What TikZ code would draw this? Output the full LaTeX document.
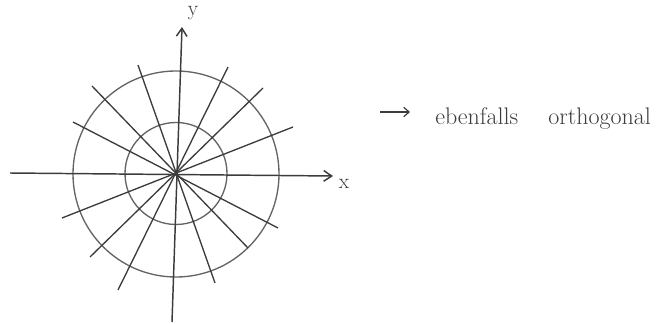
\documentclass[tikz,border=0pt]{standalone}
\usetikzlibrary{arrows.meta}
\definecolor{pencil}{RGB}{60,60,60}
\definecolor{lightpencil}{RGB}{100,100,100}
\begin{document}
\begin{tikzpicture}[x=0.75pt,y=-0.75pt,
  ray/.style={draw=pencil,line width=1pt},
  ring/.style={draw=lightpencil,line width=1pt},
  axis/.style={draw=pencil,line width=1.1pt,-{Straight Barb[length=6pt,width=8pt]}},
  lbl/.style={text=pencil,font=\fontsize{16}{18}\selectfont,inner sep=0pt},
  note/.style={text=pencil,font=\fontsize{18}{21}\selectfont,inner sep=0pt,anchor=base west}]
\useasboundingbox (0,0) rectangle (660,324);
\coordinate (O) at (176,174);
% circles
\draw[ring] (O) circle[radius=103];
\draw[ring] (176,173.5) circle[radius=51];
% axes
\coordinate (xs) at (10,173);
\coordinate (xe) at (333,176);
\coordinate (ys) at (172,322);
\coordinate (ye) at (182,27);
\draw[axis] (xs) -- (xe);
\draw[axis] (ys) -- (ye);
\node[lbl] (xl) at (344,184) {x};
\node[lbl] (yl) at (193,13) {y};
% rays
\coordinate (a1) at (138,65);  \coordinate (b1) at (215,283);
\coordinate (a2) at (228,67);  \coordinate (b2) at (118,290);
\coordinate (a3) at (263,88);  \coordinate (b3) at (90,257);
\coordinate (a4) at (293,127); \coordinate (b4) at (62,218);
\coordinate (a5) at (73,122);  \coordinate (b5) at (278,228);
\coordinate (a6) at (92,86);   \coordinate (b6) at (248,248);
\foreach \i in {1,...,6} {\draw[ray] (a\i) -- (b\i);}
% note
\coordinate (ns) at (380,112);
\coordinate (ne) at (410,112);
\draw[draw=pencil,line width=0.9pt,-{Straight Barb[length=4pt,width=7pt]}] (ns) -- (ne);
\node[note] (w1) at (435,125) {ebenfalls};
\node[note] (w2) at (548,125) {orthogonal};
\end{tikzpicture}
\end{document}
